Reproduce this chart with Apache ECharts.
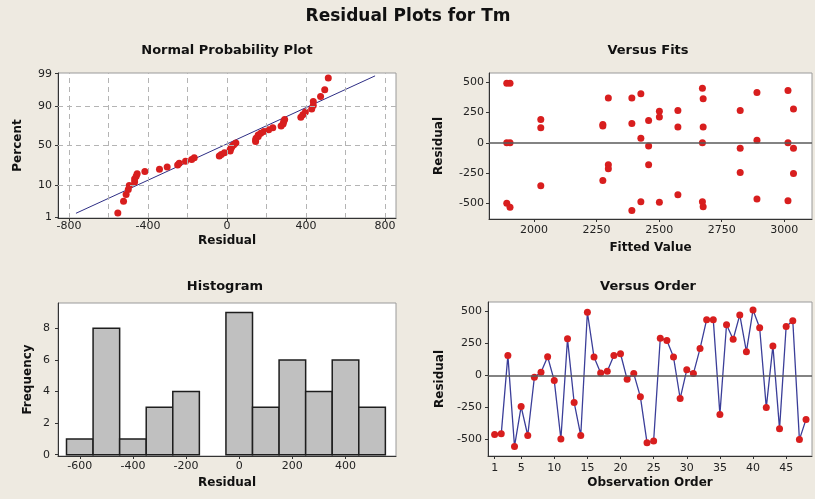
<!DOCTYPE html>
<html><head><meta charset="utf-8">
<script src="https://cdn.jsdelivr.net/npm/echarts@6/dist/echarts.min.js"></script>
<style>html,body{margin:0;padding:0;background:#EEEAE1;}#c{width:815px;height:499px;}</style>
</head><body><div id="c"></div>
<script>
// ---------- DATA ----------
const observationOrder = [1,2,3,4,5,6,7,8,9,10,11,12,13,14,15,16,17,18,19,20,21,22,23,24,25,26,27,28,29,30,31,32,33,34,35,36,37,38,39,40,41,42,43,44,45,46,47,48];
const residualsByOrder = [-460,-455,158,-553,-242,-468,-13,26,147,-39,-495,287,-210,-468,495,145,21,34,158,171,-29,16,-166,-524,-511,292,274,145,-179,45,16,211,437,437,-303,397,284,474,187,513,374,-250,232,-416,384,429,-500,-342];
const fittedValues = [1891,1891,1891,1904,1904,1904,2027,2027,2027,2275,2275,2275,2297,2297,2297,2391,2391,2391,2427,2427,2427,2458,2458,2458,2501,2501,2501,2575,2575,2575,2673,2673,2673,2676,2676,2676,2824,2824,2824,2891,2891,2891,3015,3015,3015,3037,3037,3037];
const fitsResiduals = [490,0,-499,490,0,-531,191,123,-354,150,138,-311,368,-180,-213,368,158,-558,404,38,-485,183,-27,-180,259,213,-490,267,131,-428,450,0,-485,363,131,-528,265,-46,-245,415,20,-463,431,0,-477,278,-46,-253];
const histMidpoints = [-600,-500,-400,-300,-200,-100,0,100,200,300,400,500];
const histCounts = [1,8,1,3,4,0,9,3,6,4,6,3];
const histBinWidth = 100;
const nppFitLineResidual = [-765, 750];
const nppFitLinePercent = [1.4, 98.8];
const nppPercentTicks = [1,10,50,90,99];
const nppResidualTicks = [-800,-400,0,400,800];
const nppGridResidual = [-800,-600,-400,-200,0,200,400,600,800];
const nppGridPercent = [10,50,90];
const fitsXTicks = [2000,2250,2500,2750,3000];
const residualTicks = [-500,-250,0,250,500];
const histXTicks = [-600,-400,-200,0,200,400];
const histYTicks = [0,2,4,6,8];
const orderXTicks = [1,5,10,15,20,25,30,35,40,45];

// inverse standard normal CDF (probability-scale transform)
function probit(p){
  const a=[-3.969683028665376e+01,2.209460984245205e+02,-2.759285104469687e+02,1.383577518672690e+02,-3.066479806614716e+01,2.506628277459239e+00];
  const b=[-5.447609879822406e+01,1.615858368580409e+02,-1.556989798598866e+02,6.680131188771972e+01,-1.328068155288572e+01];
  const c=[-7.784894002430293e-03,-3.223964580411365e-01,-2.400758277161838e+00,-2.549732539343734e+00,4.374664141464968e+00,2.938163982698783e+00];
  const d=[7.784695709041462e-03,3.224671290700398e-01,2.445134137142996e+00,3.754408661907416e+00];
  const pl=0.02425, ph=1-pl; let q,r;
  if(p<pl){q=Math.sqrt(-2*Math.log(p));return (((((c[0]*q+c[1])*q+c[2])*q+c[3])*q+c[4])*q+c[5])/((((d[0]*q+d[1])*q+d[2])*q+d[3])*q+1);}
  if(p<=ph){q=p-0.5;r=q*q;return (((((a[0]*r+a[1])*r+a[2])*r+a[3])*r+a[4])*r+a[5])*q/(((((b[0]*r+b[1])*r+b[2])*r+b[3])*r+b[4])*r+1);}
  q=Math.sqrt(-2*Math.log(1-p));return -(((((c[0]*q+c[1])*q+c[2])*q+c[3])*q+c[4])*q+c[5])/((((d[0]*q+d[1])*q+d[2])*q+d[3])*q+1);
}

// normal probability plot positions: sorted residuals vs median ranks
const sortedRes = residualsByOrder.slice().sort((x,y)=>x-y);
const nN = sortedRes.length;
const nppData = sortedRes.map((r,i)=>[r, probit((i+1-0.3)/(nN+0.4))]);
const nppLine = nppFitLineResidual.map((r,i)=>[r, probit(nppFitLinePercent[i]/100)]);
const nppYTickZ = nppPercentTicks.map(p=>probit(p/100));

// ---------- STYLE ----------
const F = 'DejaVu Sans';
const RED = '#D81E1E';
const plain = (v)=>String(v);
const lbl = (extra)=>Object.assign({fontFamily:F,fontSize:11,color:'#222',formatter:plain},extra);
const nameStyle = {fontFamily:F,fontSize:12,fontWeight:'bold',color:'#111'};
const axLine = {show:true,onZero:false,lineStyle:{color:'#333',width:1}};
const tick = (vals)=>({show:true,customValues:vals,length:3,lineStyle:{color:'#333'}});
const dashed = {type:[5,4],color:'#B4B4B4',width:1};
const gridBox = {show:true,backgroundColor:'#FFFFFF',borderColor:'#9A9A9A',borderWidth:1};
const dot = {color:RED,opacity:1};

const chart = echarts.init(document.getElementById('c'), null, {renderer:'canvas'});
const option = {
  backgroundColor:'#EEEAE1',
  animation:false,
  graphic:[
    {type:'text',x:408,y:17,style:{text:'Residual Plots for Tm',align:'center',verticalAlign:'middle',font:'bold 17px "DejaVu Sans"',fill:'#111'}},
    {type:'text',x:227,y:51,style:{text:'Normal Probability Plot',align:'center',verticalAlign:'middle',font:'bold 13px "DejaVu Sans"',fill:'#111'}},
    {type:'text',x:648,y:51,style:{text:'Versus Fits',align:'center',verticalAlign:'middle',font:'bold 13px "DejaVu Sans"',fill:'#111'}},
    {type:'text',x:225,y:287,style:{text:'Histogram',align:'center',verticalAlign:'middle',font:'bold 13px "DejaVu Sans"',fill:'#111'}},
    {type:'text',x:648,y:287,style:{text:'Versus Order',align:'center',verticalAlign:'middle',font:'bold 13px "DejaVu Sans"',fill:'#111'}}
  ],
  grid:[
    Object.assign({left:58,top:73,width:338,height:145},gridBox),
    Object.assign({left:489,top:73,width:323,height:146},gridBox),
    Object.assign({left:58,top:303,width:338,height:153},gridBox),
    Object.assign({left:488,top:302,width:324,height:154},gridBox)
  ],
  xAxis:[
    {gridIndex:0,type:'value',min:-856,max:856,axisLine:axLine,axisTick:tick(nppResidualTicks),
     axisLabel:lbl({customValues:nppResidualTicks,margin:3}),splitLine:{show:false},
     name:'Residual',nameLocation:'middle',nameGap:17,nameTextStyle:nameStyle},
    {gridIndex:1,type:'value',min:1820,max:3111,axisLine:axLine,axisTick:tick(fitsXTicks),
     axisLabel:lbl({customValues:fitsXTicks,margin:6}),splitLine:{show:false},
     name:'Fitted Value',nameLocation:'middle',nameGap:23,nameTextStyle:nameStyle},
    {gridIndex:2,type:'value',min:-682,max:590,axisLine:axLine,axisTick:tick(histXTicks),
     axisLabel:lbl({customValues:histXTicks,margin:5}),splitLine:{show:false},
     name:'Residual',nameLocation:'middle',nameGap:21,nameTextStyle:nameStyle},
    {gridIndex:3,type:'value',min:0,max:48.9,axisLine:axLine,axisTick:tick(orderXTicks),
     axisLabel:lbl({customValues:orderXTicks,margin:7}),splitLine:{show:false},
     name:'Observation Order',nameLocation:'middle',nameGap:21,nameTextStyle:nameStyle}
  ],
  yAxis:[
    {gridIndex:0,type:'value',min:-2.35,max:2.35,axisLine:axLine,axisTick:tick(nppYTickZ),
     axisLabel:lbl({customValues:nppYTickZ,margin:6,formatter:(v)=>{let k=0,best=1e9;nppYTickZ.forEach((z,i)=>{if(Math.abs(z-v)<best){best=Math.abs(z-v);k=i;}});return String(nppPercentTicks[k]);}}),
     splitLine:{show:false},name:'Percent',nameLocation:'middle',nameGap:34,nameTextStyle:nameStyle},
    {gridIndex:1,type:'value',min:-628,max:575,axisLine:axLine,axisTick:tick(residualTicks),
     axisLabel:lbl({customValues:residualTicks,margin:5}),splitLine:{show:false},
     name:'Residual',nameLocation:'middle',nameGap:44,nameTextStyle:nameStyle},
    {gridIndex:2,type:'value',min:-0.08,max:9.6,axisLine:axLine,axisTick:tick(histYTicks),
     axisLabel:lbl({customValues:histYTicks,margin:8}),splitLine:{show:false},
     name:'Frequency',nameLocation:'middle',nameGap:24,nameTextStyle:nameStyle},
    {gridIndex:3,type:'value',min:-628,max:575,axisLine:axLine,axisTick:tick(residualTicks),
     axisLabel:lbl({customValues:residualTicks,margin:6}),splitLine:{show:false},
     name:'Residual',nameLocation:'middle',nameGap:42,nameTextStyle:nameStyle}
  ],
  series:[
    // NPP gridlines
    {type:'line',xAxisIndex:0,yAxisIndex:0,data:[],z:1,silent:true,
     markLine:{silent:true,symbol:'none',label:{show:false},lineStyle:dashed,animation:false,
       data:nppGridResidual.map(v=>({xAxis:v})).concat(nppGridPercent.map(p=>({yAxis:probit(p/100)})))}},
    {type:'line',xAxisIndex:0,yAxisIndex:0,data:nppLine,symbol:'none',z:2,
     lineStyle:{color:'#2E2E85',width:1}},
    {type:'scatter',xAxisIndex:0,yAxisIndex:0,data:nppData,symbol:'circle',symbolSize:7,z:3,
     itemStyle:dot},
    // Versus fits
    {type:'scatter',xAxisIndex:1,yAxisIndex:1,data:fittedValues.map((f,i)=>[f,fitsResiduals[i]]),
     symbol:'circle',symbolSize:7,z:3,itemStyle:dot,
     markLine:{silent:true,symbol:'none',label:{show:false},lineStyle:{type:'solid',color:'#5A5A5A',width:1.5},data:[{yAxis:0}]}},
    // Histogram
    {type:'custom',xAxisIndex:2,yAxisIndex:2,data:histMidpoints.map((m,i)=>[m,histCounts[i]]),
     renderItem:(params,api)=>{
       const m=api.value(0), c=api.value(1);
       if(!c) return null;
       const p0=api.coord([m-histBinWidth/2,c]), p1=api.coord([m+histBinWidth/2,0]);
       return {type:'rect',shape:{x:p0[0],y:p0[1],width:p1[0]-p0[0],height:p1[1]-p0[1]},
               style:{fill:'#C0C0C0',stroke:'#1E1E1E',lineWidth:1.5}};
     }},
    // Versus order
    {type:'line',xAxisIndex:3,yAxisIndex:3,data:observationOrder.map((o,i)=>[o,residualsByOrder[i]]),
     symbol:'circle',symbolSize:7,showAllSymbol:true,z:3,
     lineStyle:{color:'#3B3E99',width:1.3},itemStyle:dot,
     markLine:{silent:true,symbol:'none',label:{show:false},lineStyle:{type:'solid',color:'#5A5A5A',width:1.5},data:[{yAxis:0}]}}
  ]
};
chart.setOption(option);
</script></body></html>
